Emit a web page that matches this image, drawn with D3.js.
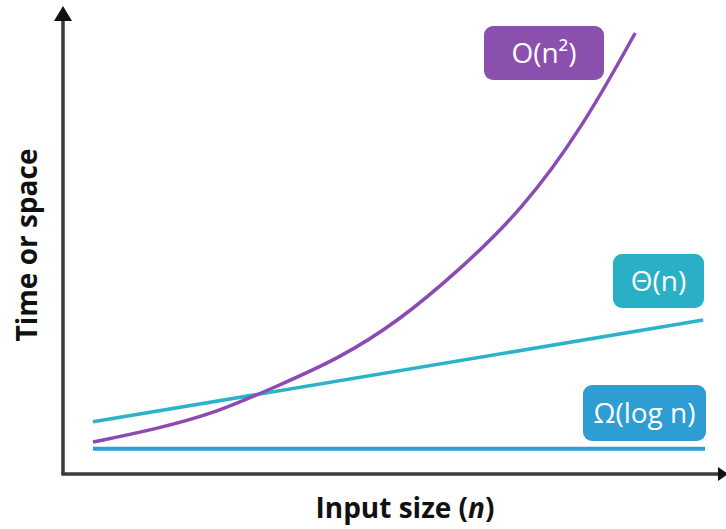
<!DOCTYPE html>
<html>
<head>
<meta charset="utf-8">
<script src="https://cdn.jsdelivr.net/npm/d3@7"></script>
<style>
  html, body { margin: 0; padding: 0; background: #fff; }
  svg { display: block; }
</style>
</head>
<body>
<svg id="chart" width="726" height="529"></svg>
<script>
// ---- data (x = input size 0..100, y = time/space 0..100) ----
const quadX = [0, 10, 20, 30, 40, 50, 60, 70, 80, 88.6];
const quadY = [7.1, 9.9, 13.5, 19.5, 25.5, 34, 45.5, 58.5, 77, 98];
const linX = [0, 99.7];
const linY = [11.6, 34.2];
const logX = [0, 100];
const logY = [5.6, 5.6];
const labels = ["O(n²)", "Θ(n)", "Ω(log n)"];
const xTitle = "Input size (";
const xTitleItalic = "n";
const yTitle = "Time or space";

const W = 726, H = 529;
const svg = d3.select("#chart");

const x = d3.scaleLinear().domain([0, 100]).range([93, 705]);
const y = d3.scaleLinear().domain([0, 100]).range([474, 24]);

const colPurple = "#8c4bb3", colTeal = "#2bb3c9", colBlue = "#2e9fd6";

// ---- axes ----
const axisColor = "#3a3a3a";
svg.append("line").attr("x1", 63).attr("y1", 475).attr("x2", 63).attr("y2", 18)
  .attr("stroke", axisColor).attr("stroke-width", 3.5);
svg.append("path").attr("d", "M63,6 L54,21 L72,21 Z").attr("fill", "#111");
svg.append("line").attr("x1", 61.5).attr("y1", 474).attr("x2", 718).attr("y2", 474)
  .attr("stroke", axisColor).attr("stroke-width", 3.5);
svg.append("path").attr("d", "M728,474 L718,467 L718,481 Z").attr("fill", "#111");

// ---- series ----
const line = d3.line().x(d => x(d[0])).y(d => y(d[1]));
svg.append("path").datum(logX.map((v, i) => [v, logY[i]]))
  .attr("d", line).attr("fill", "none").attr("stroke", colBlue).attr("stroke-width", 4);
svg.append("path").datum(linX.map((v, i) => [v, linY[i]]))
  .attr("d", line).attr("fill", "none").attr("stroke", colTeal).attr("stroke-width", 3.5);
svg.append("path").datum(quadX.map((v, i) => [v, quadY[i]]))
  .attr("d", d3.line().x(d => x(d[0])).y(d => y(d[1])).curve(d3.curveBasis))
  .attr("fill", "none").attr("stroke", colPurple).attr("stroke-width", 3.5);

// ---- label boxes ----
const boxes = [
  { x: 484, y: 26, w: 120, h: 54, c: "#8b4fae", t: labels[0] },
  { x: 613, y: 254, w: 91, h: 54, c: "#2ab0c6", t: labels[1] },
  { x: 583, y: 385, w: 123, h: 56, c: "#2e9dd3", t: labels[2] }
];
const g = svg.selectAll("g.box").data(boxes).enter().append("g").attr("class", "box");
g.append("rect").attr("x", d => d.x).attr("y", d => d.y).attr("width", d => d.w).attr("height", d => d.h)
  .attr("rx", 9).attr("fill", d => d.c);
g.append("text").attr("x", d => d.x + d.w / 2).attr("y", d => d.y + d.h / 2 + 10)
  .attr("text-anchor", "middle").attr("fill", "#fff")
  .attr("font-family", "'Open Sans', sans-serif").attr("font-weight", 500).attr("font-size", 28)
  .text(d => d.t);

// ---- axis titles ----
const xt = svg.append("text").attr("x", 405).attr("y", 518).attr("text-anchor", "middle")
  .attr("font-family", "'Open Sans', sans-serif").attr("font-weight", 700).attr("font-size", 28).attr("fill", "#111");
xt.append("tspan").text(xTitle);
xt.append("tspan").attr("font-style", "italic").text(xTitleItalic);
xt.append("tspan").text(")");

svg.append("text").attr("transform", "translate(37,245) rotate(-90)").attr("text-anchor", "middle")
  .attr("font-family", "'Open Sans', sans-serif").attr("font-weight", 700).attr("font-size", 28).attr("fill", "#111")
  .text(yTitle);
</script>
</body>
</html>
